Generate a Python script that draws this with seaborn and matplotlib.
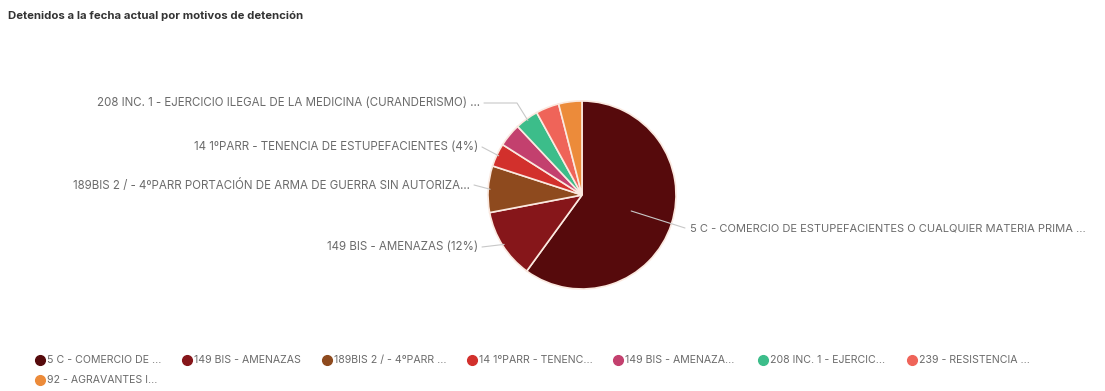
import numpy as np
import seaborn as sns
import matplotlib.pyplot as plt

# datos
detenidos = [15, 3, 2, 1, 1, 1, 1, 1]
leyenda = [
    "5 C - COMERCIO DE ...", "149 BIS - AMENAZAS", "189BIS 2 / - 4ºPARR ...",
    "14 1ºPARR - TENENC...", "149 BIS - AMENAZA...", "208 INC. 1 - EJERCIC...",
    "239 - RESISTENCIA ...", "92 - AGRAVANTES I...",
]
etiquetas = [
    "5 C - COMERCIO DE ESTUPEFACIENTES O CUALQUIER MATERIA PRIMA ...",
    "149 BIS - AMENAZAS (12%)",
    "189BIS 2 / - 4ºPARR PORTACIÓN DE ARMA DE GUERRA SIN AUTORIZA...",
    "14 1ºPARR - TENENCIA DE ESTUPEFACIENTES (4%)",
    None,
    "208 INC. 1 - EJERCICIO ILEGAL DE LA MEDICINA (CURANDERISMO) ...",
    None,
    None,
]
colores = ["#560a0c", "#86161a", "#8e4a1e", "#d2302c", "#c3406e",
           "#3cbd8a", "#ef6459", "#ec8b3a"]

sns.set_theme(style="white")
plt.rcParams['font.family'] = ['Inter', 'DejaVu Sans']

W, H = 1105, 391
fig = plt.figure(figsize=(W / 100, H / 100), dpi=100)
ax = fig.add_axes([0, 0, 1, 1])

cx, cy, r = 582, H - 195, 94
ax.pie(detenidos, colors=colores, startangle=90, counterclock=False,
       center=(cx, cy), radius=r, frame=True,
       wedgeprops=dict(edgecolor="#fbe9e0", linewidth=1.2))
ax.set_xlim(0, W)
ax.set_ylim(0, H)
ax.set_aspect('equal')
ax.axis('off')

# posiciones de las etiquetas (x, y del texto, alineación, radio inicial, tamaño)
pos_etq = [
    (690, H - 228, 'left', 0.55, 8.0),
    (478, H - 247, 'right', 0.98, 8.3),
    (470, H - 185, 'right', 0.98, 8.3),
    (478, H - 147, 'right', 0.98, 8.3),
    None,
    (480, H - 103, 'right', 0.98, 8.3),
    None,
    None,
]
total = sum(detenidos)
acum = np.cumsum([0] + detenidos[:-1])
gris = "#6b6b6b"
for i, (lab, p) in enumerate(zip(etiquetas, pos_etq)):
    if lab is None:
        continue
    mid = (acum[i] + detenidos[i] / 2) / total * 2 * np.pi
    tx, ty, ha, fr, fs = p
    px = cx + np.sin(mid) * r * fr
    py = cy + np.cos(mid) * r * fr
    if i == 5:
        ax.plot([tx + 4, 517, px], [ty, ty, py], color="#c8c8c8", lw=0.8)
    else:
        ex = tx - 5 if ha == 'left' else tx + 4
        ax.plot([ex, px], [ty, py], color="#c8c8c8", lw=0.8)
    ax.text(tx, ty, lab, ha=ha, va='center', fontsize=fs, color=gris)

ax.text(8, H - 16, "Detenidos a la fecha actual por motivos de detención",
        fontsize=8.2, fontweight='bold', color="#333333", va='center')

# leyenda manual
ley_x = [40, 187, 327, 472, 618, 763, 912, 40]
ley_y = [360, 360, 360, 360, 360, 360, 360, 380]
for lab, c, lx, ly in zip(leyenda, colores, ley_x, ley_y):
    ax.plot(lx, H - ly, 'o', color=c, markersize=7)
    ax.text(lx + 7, H - ly, lab, fontsize=7.6, color=gris, va='center')

fig.savefig("out.png", dpi=100, facecolor="white")
